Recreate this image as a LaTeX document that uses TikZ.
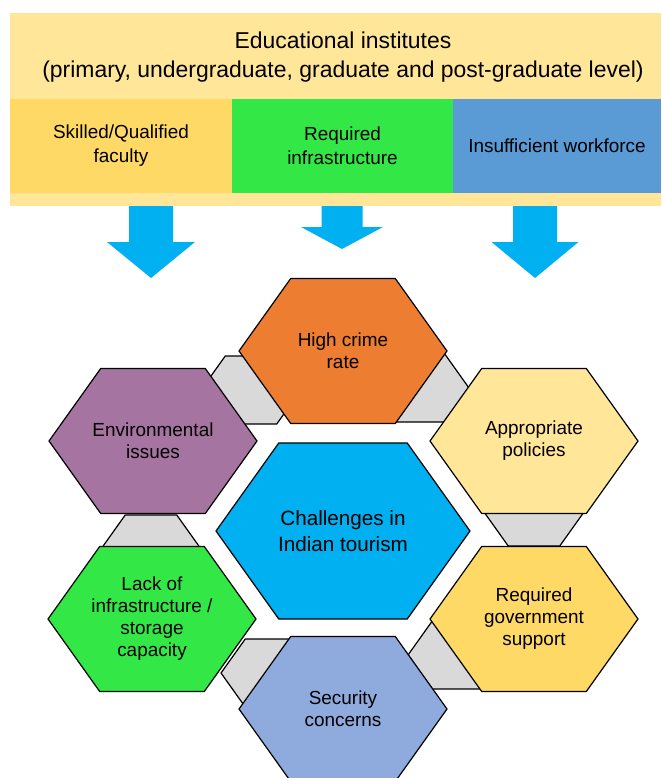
\documentclass[tikz,border=0pt]{standalone}
\usepackage{fontspec}
\setmainfont{Liberation Sans}
\usepackage{tikz}
\usetikzlibrary{shapes,shapes.symbols,arrows,positioning,calc}

\definecolor{hdryellow}{HTML}{FFE699}
\definecolor{gold}{HTML}{FFD966}
\definecolor{brightgreen}{RGB}{51,232,70}
\definecolor{steelblue}{HTML}{5B9BD5}
\definecolor{skyblue}{HTML}{00B0F0}
\definecolor{crimeorange}{HTML}{ED7D31}
\definecolor{mauve}{RGB}{166,116,160}
\definecolor{slateblue}{HTML}{8FAADC}
\definecolor{linkgray}{HTML}{D9D9D9}

\begin{document}
\begin{tikzpicture}[x=0.75pt,y=-0.75pt,
  hexa/.style={signal,signal to=west and east,signal pointer angle=109,draw=black,line width=0.9pt,
    minimum width=156pt,minimum height=108.75pt,inner ysep=0pt,inner xsep=-20pt,align=center,
    font=\fontsize{14.2}{16.5}\selectfont},
  bighexa/.style={hexa,minimum width=190.5pt,minimum height=132pt,font=\fontsize{15.5}{19.5}\selectfont},
  linkhexa/.style={hexa,fill=linkgray,inner xsep=0pt,minimum width=75pt,minimum height=51pt},
  headbox/.style={rectangle,inner sep=0pt,outer sep=0pt,minimum height=70.5pt,align=center,
    font=\fontsize{14.2}{18}\selectfont}]
\useasboundingbox (0,0) rectangle (661,778);

% header
\node[rectangle,fill=hdryellow,inner sep=0pt,minimum width=488.25pt,minimum height=144.75pt] (edu) at (335.5,109.5) {};
\node[align=center,font=\fontsize{17.2}{21.75}\selectfont] (title) at (343,57.5) {Educational institutes\\(primary, undergraduate, graduate and post-graduate level)};
\node[headbox,fill=gold,minimum width=166.5pt] (faculty) at (121,146) {Skilled/Qualified\\faculty};
\node[headbox,fill=brightgreen,minimum width=165.75pt,right=0pt of faculty] (infra) {Required\\infrastructure};
\node[headbox,fill=steelblue,minimum width=156pt,right=0pt of infra] (workforce) {Insufficient workforce};

% block arrows
\foreach \x/\h/\t/\s/\w in {151/242/278/22/44, 342/227/249/20.5/41, 535/242/278/22/43.5}
  \fill[skyblue] (\x-\s,206) -- (\x+\s,206) -- (\x+\s,\h) -- (\x+\w,\h) -- (\x,\t) -- (\x-\w,\h) -- (\x-\s,\h) -- cycle;

% links behind the hexagons
\node[linkhexa] (l1) at (251,390) {};
\node[linkhexa] (l2) at (419,388) {};
\node[linkhexa] (l3) at (534,512) {};
\node[linkhexa] (l4) at (458,655) {};
\node[linkhexa] (l5) at (271,673) {};
\node[linkhexa] (l6) at (151,549) {};

% hexagons
\node[hexa,fill=crimeorange] (crime) at (343,351) {High crime\\rate};
\node[hexa,fill=mauve] (env) at (153,441) {Environmental\\issues};
\node[hexa,fill=hdryellow] (policy) at (534,441) {Appropriate\\policies};
\node[bighexa,fill=skyblue] (tourism) at (343,531) {Challenges in\\Indian tourism};
\node[hexa,fill=brightgreen] (lack) at (152,619) {Lack of\\infrastructure /\\storage\\capacity};
\node[hexa,fill=gold] (govt) at (534,619) {Required\\government\\support};
\node[hexa,fill=slateblue] (security) at (343,709) {Security\\concerns};
\end{tikzpicture}
\end{document}
